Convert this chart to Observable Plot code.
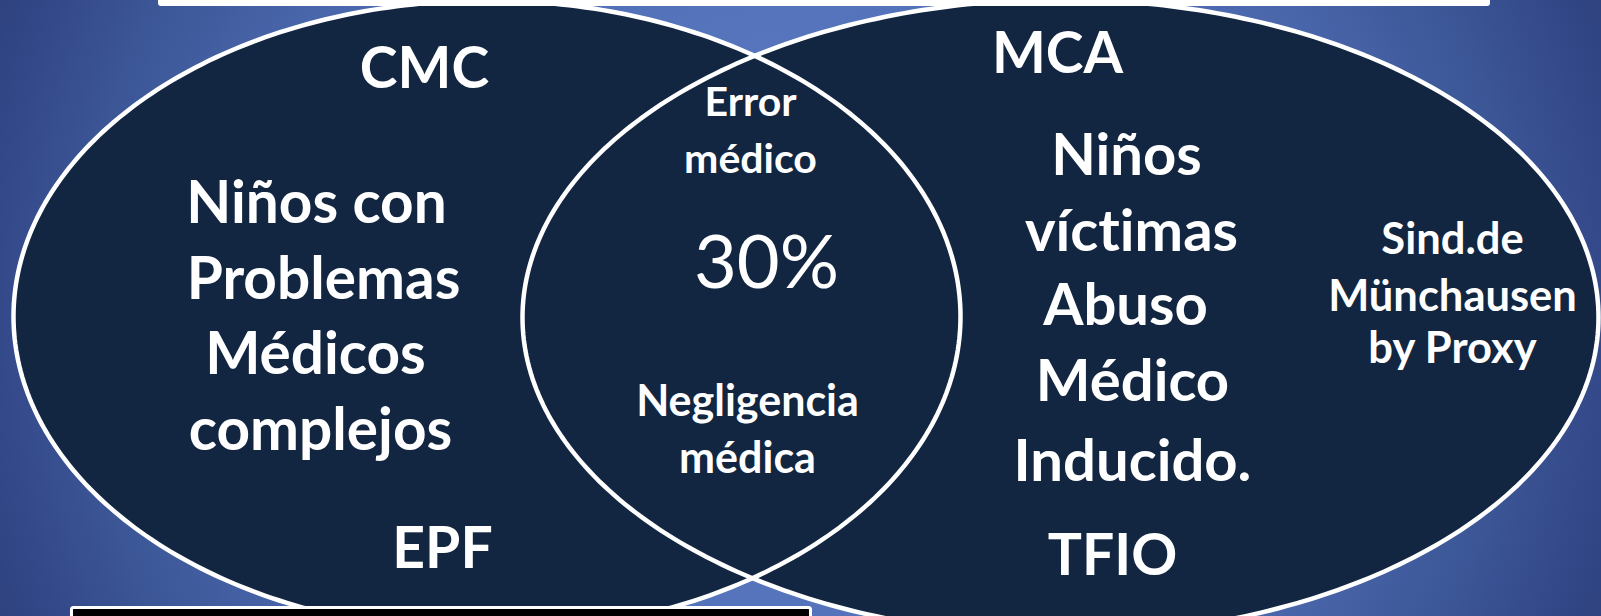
<!DOCTYPE html>
<html><head><meta charset="utf-8">
<script src="https://cdn.jsdelivr.net/npm/d3@7"></script>
<script src="https://cdn.jsdelivr.net/npm/@observablehq/plot@0.6"></script>
<style>html,body{margin:0;padding:0;overflow:hidden;background:#3a5597}
svg text{font-variant-ligatures:none;font-feature-settings:"liga" 0,"clig" 0,"dlig" 0}</style>
</head><body><div id="chart"></div>
<script>
// Sets of the Venn diagram
const setNames = ["CMC", "MCA"];
const setCx = [486.5, 1060];
const setCy = [316, 317];
const setRx = [473.5, 538];
const setRy = [316, 318];

// Text content
const titleLabels = ["CMC", "MCA"];
const leftLines = ["Niños con", "Problemas", "Médicos", "complejos"];
const overlapTop = ["Error", "médico"];
const overlapValue = ["30%"];
const overlapBottom = ["Negligencia", "médica"];
const rightLines = ["Niños", "víctimas", "Abuso", "Médico", "Inducido."];
const sideLines = ["Sind.de", "Münchausen", "by Proxy"];
const footLabels = ["EPF", "TFIO"];

// Layout (center x, baseline y) for each line
const titleX = [424, 1057], titleY = [87, 72];
const leftX = [316, 323, 315, 320], leftY = [222, 298, 373, 449];
const overlapTopX = [750, 750], overlapTopY = [115, 172];
const overlapValueX = [766], overlapValueY = [287];
const overlapBottomX = [747, 747], overlapBottomY = [415, 472];
const rightX = [1126, 1131, 1125, 1132, 1132], rightY = [174, 250, 324, 400, 480];
const sideX = [1452, 1452, 1452], sideY = [253, 310, 362];
const footX = [442, 1112], footY = [567, 574];

// Frames
const topBox = {x1: 158, x2: 1490, y1: -8, y2: 6};
const bottomBox = {x1: 71.5, x2: 810.5, y1: 607.5, y2: 630};

const outline = (i) => d3.range(0, 361, 1).map(a => ({
  set: setNames[i],
  x: setCx[i] + setRx[i] * Math.cos(a * Math.PI / 180),
  y: setCy[i] + setRy[i] * Math.sin(a * Math.PI / 180)
}));
const shapes = [outline(0), outline(1)];

const rows = (lines, xs, ys) => lines.map((t, i) => ({t, x: xs[i], y: ys[i]}));

const txt = (data, size, weight) => Plot.text(data, {
  x: "x", y: "y", text: "t", fill: "white", fontSize: size,
  fontWeight: weight, fontFamily: "Lato", lineAnchor: "bottom", textAnchor: "middle"
});

const chart = Plot.plot({
  width: 1601, height: 616,
  marginTop: 0, marginRight: 0, marginBottom: 0, marginLeft: 0,
  x: {domain: [0, 1601], range: [0, 1601], axis: null},
  y: {domain: [0, 616], range: [0, 616], axis: null},
  style: {
    background: "radial-gradient(circle 870px at 50% 50%, #5b7bc3 0px, #5574bc 290px, #4a66ab 570px, #3d5898 700px, #34498a 800px, #2c417c 870px)",
    overflow: "hidden"
  },
  marks: [
    Plot.line(shapes[0], {x: "x", y: "y", curve: "linear-closed", fill: "#122641", stroke: "none"}),
    Plot.line(shapes[1], {x: "x", y: "y", curve: "linear-closed", fill: "#122641", stroke: "none"}),
    Plot.line(shapes[0], {x: "x", y: "y", curve: "linear-closed", stroke: "white", strokeWidth: 4.5}),
    Plot.line(shapes[1], {x: "x", y: "y", curve: "linear-closed", stroke: "white", strokeWidth: 4.5}),
    Plot.rect([topBox], {x1: "x1", x2: "x2", y1: "y1", y2: "y2", fill: "white", rx: 3}),
    Plot.rect([bottomBox], {x1: "x1", x2: "x2", y1: "y1", y2: "y2", fill: "black", stroke: "white", strokeWidth: 3, rx: 2}),
    txt(rows(titleLabels, titleX, titleY), 57, "bold"),
    txt(rows(leftLines, leftX, leftY), 58.5, "bold"),
    txt(rows(overlapTop, overlapTopX, overlapTopY), 41, "bold"),
    txt(rows(overlapValue, overlapValueX, overlapValueY), 74, "normal"),
    txt(rows(overlapBottom, overlapBottomX, overlapBottomY), 43, "bold"),
    txt(rows(rightLines, rightX, rightY), 58, "bold"),
    txt(rows(sideLines, sideX, sideY), 43.5, "bold"),
    txt(rows(footLabels, footX, footY), 57, "bold")
  ]
});
document.getElementById("chart").appendChild(chart);
</script>
</body></html>
